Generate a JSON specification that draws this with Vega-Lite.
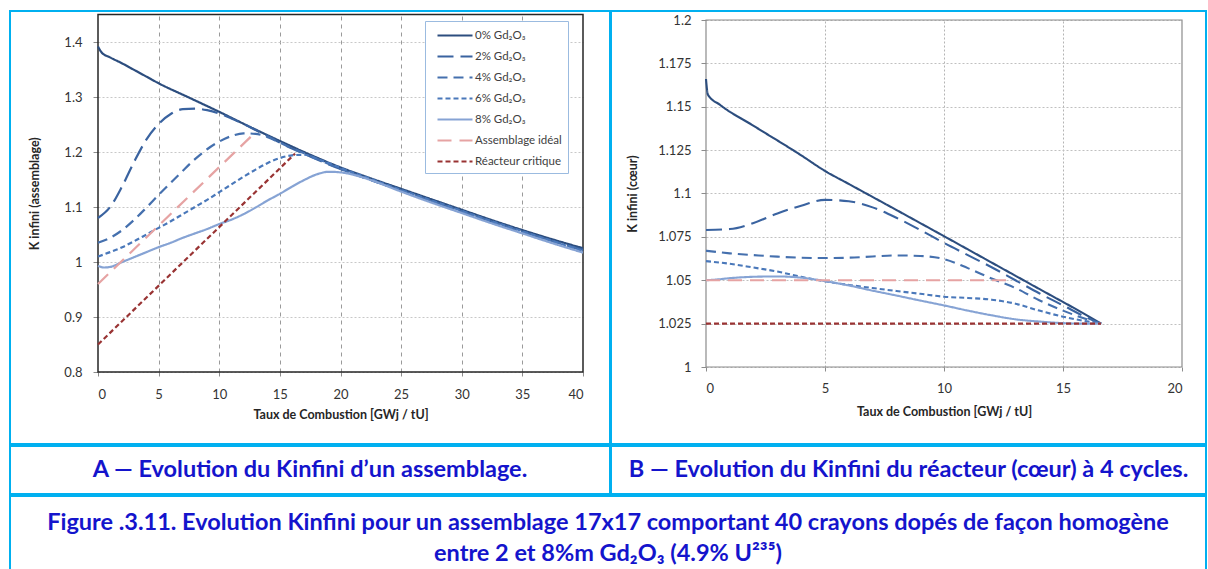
{
  "$schema": "https://vega.github.io/schema/vega-lite/v6.json",
  "padding": {"left": 9, "top": 10, "right": 0, "bottom": 0},
  "background": "#ffffff",
  "spacing": 0,
  "config": {
    "view": {"stroke": "#00B0F0", "strokeWidth": 2},
    "font": "Lato",
    "axis": {"labelFont": "Lato", "titleFont": "Lato", "labelColor": "#333333", "titleColor": "#262626", "labelFontSize": 13, "titleFontSize": 12.5, "titleFontWeight": "bold", "tickColor": "#8c8c8c", "domain": false},
    "legend": {"orient": "none", "title": null, "fillColor": "#ffffff", "strokeColor": "#9BBBE0", "padding": 6, "symbolType": "M-0.286,0H4.714", "symbolSize": 196, "symbolStrokeWidth": 2.2, "labelFontSize": 11.5, "labelFont": "Lato", "labelColor": "#404040", "rowPadding": 7, "labelOffset": 27}
  },
  "datasets": {
    "a": [
      {"s": "0% Gd₂O₃", "x": 0, "k": 1.392}, {"s": "0% Gd₂O₃", "x": 0.3, "k": 1.381}, {"s": "0% Gd₂O₃", "x": 1, "k": 1.372}, {"s": "0% Gd₂O₃", "x": 2, "k": 1.361}, {"s": "0% Gd₂O₃", "x": 3, "k": 1.349}, {"s": "0% Gd₂O₃", "x": 4, "k": 1.337}, {"s": "0% Gd₂O₃", "x": 5, "k": 1.325}, {"s": "0% Gd₂O₃", "x": 7.5, "k": 1.299}, {"s": "0% Gd₂O₃", "x": 10, "k": 1.273}, {"s": "0% Gd₂O₃", "x": 12.5, "k": 1.246}, {"s": "0% Gd₂O₃", "x": 15, "k": 1.22}, {"s": "0% Gd₂O₃", "x": 17.5, "k": 1.195}, {"s": "0% Gd₂O₃", "x": 20, "k": 1.172}, {"s": "0% Gd₂O₃", "x": 22.5, "k": 1.152}, {"s": "0% Gd₂O₃", "x": 25, "k": 1.133}, {"s": "0% Gd₂O₃", "x": 27.5, "k": 1.114}, {"s": "0% Gd₂O₃", "x": 30, "k": 1.095}, {"s": "0% Gd₂O₃", "x": 32.5, "k": 1.076}, {"s": "0% Gd₂O₃", "x": 35, "k": 1.058}, {"s": "0% Gd₂O₃", "x": 37.5, "k": 1.041}, {"s": "0% Gd₂O₃", "x": 40, "k": 1.025},
      {"s": "2% Gd₂O₃", "x": 0, "k": 1.08}, {"s": "2% Gd₂O₃", "x": 1, "k": 1.1}, {"s": "2% Gd₂O₃", "x": 2, "k": 1.138}, {"s": "2% Gd₂O₃", "x": 3, "k": 1.183}, {"s": "2% Gd₂O₃", "x": 4, "k": 1.223}, {"s": "2% Gd₂O₃", "x": 5, "k": 1.251}, {"s": "2% Gd₂O₃", "x": 6, "k": 1.269}, {"s": "2% Gd₂O₃", "x": 7, "k": 1.278}, {"s": "2% Gd₂O₃", "x": 8, "k": 1.279}, {"s": "2% Gd₂O₃", "x": 9, "k": 1.276}, {"s": "2% Gd₂O₃", "x": 10, "k": 1.27}, {"s": "2% Gd₂O₃", "x": 11, "k": 1.261}, {"s": "2% Gd₂O₃", "x": 12, "k": 1.251}, {"s": "2% Gd₂O₃", "x": 13, "k": 1.24}, {"s": "2% Gd₂O₃", "x": 14, "k": 1.229}, {"s": "2% Gd₂O₃", "x": 15, "k": 1.217}, {"s": "2% Gd₂O₃", "x": 17.5, "k": 1.192}, {"s": "2% Gd₂O₃", "x": 20, "k": 1.169}, {"s": "2% Gd₂O₃", "x": 22.5, "k": 1.149}, {"s": "2% Gd₂O₃", "x": 25, "k": 1.13}, {"s": "2% Gd₂O₃", "x": 27.5, "k": 1.111}, {"s": "2% Gd₂O₃", "x": 30, "k": 1.092}, {"s": "2% Gd₂O₃", "x": 32.5, "k": 1.073}, {"s": "2% Gd₂O₃", "x": 35, "k": 1.055}, {"s": "2% Gd₂O₃", "x": 37.5, "k": 1.038}, {"s": "2% Gd₂O₃", "x": 40, "k": 1.022},
      {"s": "4% Gd₂O₃", "x": 0, "k": 1.035}, {"s": "4% Gd₂O₃", "x": 1, "k": 1.044}, {"s": "4% Gd₂O₃", "x": 2, "k": 1.058}, {"s": "4% Gd₂O₃", "x": 3, "k": 1.077}, {"s": "4% Gd₂O₃", "x": 4, "k": 1.099}, {"s": "4% Gd₂O₃", "x": 5, "k": 1.122}, {"s": "4% Gd₂O₃", "x": 6, "k": 1.144}, {"s": "4% Gd₂O₃", "x": 7, "k": 1.166}, {"s": "4% Gd₂O₃", "x": 8, "k": 1.187}, {"s": "4% Gd₂O₃", "x": 9, "k": 1.205}, {"s": "4% Gd₂O₃", "x": 10, "k": 1.219}, {"s": "4% Gd₂O₃", "x": 11, "k": 1.229}, {"s": "4% Gd₂O₃", "x": 12, "k": 1.234}, {"s": "4% Gd₂O₃", "x": 13, "k": 1.233}, {"s": "4% Gd₂O₃", "x": 14, "k": 1.227}, {"s": "4% Gd₂O₃", "x": 15, "k": 1.217}, {"s": "4% Gd₂O₃", "x": 16, "k": 1.207}, {"s": "4% Gd₂O₃", "x": 17.5, "k": 1.193}, {"s": "4% Gd₂O₃", "x": 20, "k": 1.169}, {"s": "4% Gd₂O₃", "x": 22.5, "k": 1.149}, {"s": "4% Gd₂O₃", "x": 25, "k": 1.13}, {"s": "4% Gd₂O₃", "x": 27.5, "k": 1.111}, {"s": "4% Gd₂O₃", "x": 30, "k": 1.092}, {"s": "4% Gd₂O₃", "x": 32.5, "k": 1.073}, {"s": "4% Gd₂O₃", "x": 35, "k": 1.055}, {"s": "4% Gd₂O₃", "x": 37.5, "k": 1.038}, {"s": "4% Gd₂O₃", "x": 40, "k": 1.021},
      {"s": "6% Gd₂O₃", "x": 0, "k": 1.01}, {"s": "6% Gd₂O₃", "x": 1, "k": 1.018}, {"s": "6% Gd₂O₃", "x": 2, "k": 1.027}, {"s": "6% Gd₂O₃", "x": 3, "k": 1.038}, {"s": "6% Gd₂O₃", "x": 4, "k": 1.05}, {"s": "6% Gd₂O₃", "x": 5, "k": 1.062}, {"s": "6% Gd₂O₃", "x": 6, "k": 1.074}, {"s": "6% Gd₂O₃", "x": 7, "k": 1.087}, {"s": "6% Gd₂O₃", "x": 8, "k": 1.1}, {"s": "6% Gd₂O₃", "x": 9, "k": 1.113}, {"s": "6% Gd₂O₃", "x": 10, "k": 1.127}, {"s": "6% Gd₂O₃", "x": 11, "k": 1.141}, {"s": "6% Gd₂O₃", "x": 12, "k": 1.155}, {"s": "6% Gd₂O₃", "x": 13, "k": 1.168}, {"s": "6% Gd₂O₃", "x": 14, "k": 1.18}, {"s": "6% Gd₂O₃", "x": 15, "k": 1.189}, {"s": "6% Gd₂O₃", "x": 16, "k": 1.194}, {"s": "6% Gd₂O₃", "x": 17, "k": 1.195}, {"s": "6% Gd₂O₃", "x": 18, "k": 1.188}, {"s": "6% Gd₂O₃", "x": 19, "k": 1.18}, {"s": "6% Gd₂O₃", "x": 20, "k": 1.171}, {"s": "6% Gd₂O₃", "x": 22.5, "k": 1.151}, {"s": "6% Gd₂O₃", "x": 25, "k": 1.131}, {"s": "6% Gd₂O₃", "x": 27.5, "k": 1.112}, {"s": "6% Gd₂O₃", "x": 30, "k": 1.093}, {"s": "6% Gd₂O₃", "x": 32.5, "k": 1.074}, {"s": "6% Gd₂O₃", "x": 35, "k": 1.056}, {"s": "6% Gd₂O₃", "x": 37.5, "k": 1.038}, {"s": "6% Gd₂O₃", "x": 40, "k": 1.02},
      {"s": "8% Gd₂O₃", "x": 0, "k": 0.993}, {"s": "8% Gd₂O₃", "x": 0.5, "k": 0.99}, {"s": "8% Gd₂O₃", "x": 1, "k": 0.991}, {"s": "8% Gd₂O₃", "x": 2, "k": 1.0}, {"s": "8% Gd₂O₃", "x": 3, "k": 1.009}, {"s": "8% Gd₂O₃", "x": 4, "k": 1.018}, {"s": "8% Gd₂O₃", "x": 5, "k": 1.027}, {"s": "8% Gd₂O₃", "x": 6, "k": 1.035}, {"s": "8% Gd₂O₃", "x": 7, "k": 1.044}, {"s": "8% Gd₂O₃", "x": 8, "k": 1.052}, {"s": "8% Gd₂O₃", "x": 9, "k": 1.06}, {"s": "8% Gd₂O₃", "x": 10, "k": 1.069}, {"s": "8% Gd₂O₃", "x": 11, "k": 1.077}, {"s": "8% Gd₂O₃", "x": 12, "k": 1.087}, {"s": "8% Gd₂O₃", "x": 13, "k": 1.099}, {"s": "8% Gd₂O₃", "x": 14, "k": 1.112}, {"s": "8% Gd₂O₃", "x": 15, "k": 1.124}, {"s": "8% Gd₂O₃", "x": 16, "k": 1.137}, {"s": "8% Gd₂O₃", "x": 17, "k": 1.149}, {"s": "8% Gd₂O₃", "x": 18, "k": 1.159}, {"s": "8% Gd₂O₃", "x": 19, "k": 1.164}, {"s": "8% Gd₂O₃", "x": 20, "k": 1.163}, {"s": "8% Gd₂O₃", "x": 21, "k": 1.159}, {"s": "8% Gd₂O₃", "x": 22.5, "k": 1.149}, {"s": "8% Gd₂O₃", "x": 25, "k": 1.128}, {"s": "8% Gd₂O₃", "x": 27.5, "k": 1.108}, {"s": "8% Gd₂O₃", "x": 30, "k": 1.089}, {"s": "8% Gd₂O₃", "x": 32.5, "k": 1.07}, {"s": "8% Gd₂O₃", "x": 35, "k": 1.052}, {"s": "8% Gd₂O₃", "x": 37.5, "k": 1.034}, {"s": "8% Gd₂O₃", "x": 40, "k": 1.017},
      {"s": "Assemblage idéal", "x": 0, "k": 0.96}, {"s": "Assemblage idéal", "x": 12.8, "k": 1.232},
      {"s": "Réacteur critique", "x": 0, "k": 0.85}, {"s": "Réacteur critique", "x": 16.25, "k": 1.197}
    ],
    "b": [
      {"s": "0% Gd₂O₃", "x": 0, "k": 1.166}, {"s": "0% Gd₂O₃", "x": 0.08, "k": 1.157}, {"s": "0% Gd₂O₃", "x": 0.6, "k": 1.151}, {"s": "0% Gd₂O₃", "x": 2, "k": 1.139}, {"s": "0% Gd₂O₃", "x": 4, "k": 1.122}, {"s": "0% Gd₂O₃", "x": 5, "k": 1.113}, {"s": "0% Gd₂O₃", "x": 6, "k": 1.1055}, {"s": "0% Gd₂O₃", "x": 8, "k": 1.0905}, {"s": "0% Gd₂O₃", "x": 10, "k": 1.0754}, {"s": "0% Gd₂O₃", "x": 12, "k": 1.0602}, {"s": "0% Gd₂O₃", "x": 14, "k": 1.045}, {"s": "0% Gd₂O₃", "x": 16, "k": 1.0298}, {"s": "0% Gd₂O₃", "x": 16.6, "k": 1.025},
      {"s": "2% Gd₂O₃", "x": 0, "k": 1.079}, {"s": "2% Gd₂O₃", "x": 1, "k": 1.0795}, {"s": "2% Gd₂O₃", "x": 2, "k": 1.083}, {"s": "2% Gd₂O₃", "x": 3, "k": 1.0885}, {"s": "2% Gd₂O₃", "x": 4, "k": 1.093}, {"s": "2% Gd₂O₃", "x": 5, "k": 1.0963}, {"s": "2% Gd₂O₃", "x": 6, "k": 1.0955}, {"s": "2% Gd₂O₃", "x": 7, "k": 1.092}, {"s": "2% Gd₂O₃", "x": 8, "k": 1.086}, {"s": "2% Gd₂O₃", "x": 9, "k": 1.079}, {"s": "2% Gd₂O₃", "x": 10, "k": 1.0715}, {"s": "2% Gd₂O₃", "x": 11, "k": 1.0645}, {"s": "2% Gd₂O₃", "x": 12, "k": 1.0575}, {"s": "2% Gd₂O₃", "x": 13, "k": 1.05}, {"s": "2% Gd₂O₃", "x": 14, "k": 1.0425}, {"s": "2% Gd₂O₃", "x": 15, "k": 1.0355}, {"s": "2% Gd₂O₃", "x": 16, "k": 1.0285}, {"s": "2% Gd₂O₃", "x": 16.6, "k": 1.025},
      {"s": "4% Gd₂O₃", "x": 0, "k": 1.067}, {"s": "4% Gd₂O₃", "x": 1, "k": 1.0655}, {"s": "4% Gd₂O₃", "x": 2, "k": 1.0645}, {"s": "4% Gd₂O₃", "x": 3, "k": 1.0636}, {"s": "4% Gd₂O₃", "x": 4, "k": 1.063}, {"s": "4% Gd₂O₃", "x": 5, "k": 1.0628}, {"s": "4% Gd₂O₃", "x": 6, "k": 1.063}, {"s": "4% Gd₂O₃", "x": 7, "k": 1.0637}, {"s": "4% Gd₂O₃", "x": 8, "k": 1.0643}, {"s": "4% Gd₂O₃", "x": 9, "k": 1.064}, {"s": "4% Gd₂O₃", "x": 10, "k": 1.0622}, {"s": "4% Gd₂O₃", "x": 11, "k": 1.057}, {"s": "4% Gd₂O₃", "x": 12, "k": 1.051}, {"s": "4% Gd₂O₃", "x": 13, "k": 1.0455}, {"s": "4% Gd₂O₃", "x": 14, "k": 1.0385}, {"s": "4% Gd₂O₃", "x": 15, "k": 1.0325}, {"s": "4% Gd₂O₃", "x": 16, "k": 1.0275}, {"s": "4% Gd₂O₃", "x": 16.6, "k": 1.025},
      {"s": "6% Gd₂O₃", "x": 0, "k": 1.061}, {"s": "6% Gd₂O₃", "x": 1, "k": 1.0595}, {"s": "6% Gd₂O₃", "x": 2, "k": 1.0573}, {"s": "6% Gd₂O₃", "x": 3, "k": 1.055}, {"s": "6% Gd₂O₃", "x": 4, "k": 1.052}, {"s": "6% Gd₂O₃", "x": 5, "k": 1.0494}, {"s": "6% Gd₂O₃", "x": 6, "k": 1.0473}, {"s": "6% Gd₂O₃", "x": 7, "k": 1.0455}, {"s": "6% Gd₂O₃", "x": 8, "k": 1.0438}, {"s": "6% Gd₂O₃", "x": 9, "k": 1.0422}, {"s": "6% Gd₂O₃", "x": 10, "k": 1.0405}, {"s": "6% Gd₂O₃", "x": 11, "k": 1.0398}, {"s": "6% Gd₂O₃", "x": 12, "k": 1.0388}, {"s": "6% Gd₂O₃", "x": 13, "k": 1.0365}, {"s": "6% Gd₂O₃", "x": 14, "k": 1.0325}, {"s": "6% Gd₂O₃", "x": 15, "k": 1.029}, {"s": "6% Gd₂O₃", "x": 16, "k": 1.0263}, {"s": "6% Gd₂O₃", "x": 16.6, "k": 1.025},
      {"s": "8% Gd₂O₃", "x": 0, "k": 1.05}, {"s": "8% Gd₂O₃", "x": 0.5, "k": 1.0505}, {"s": "8% Gd₂O₃", "x": 1, "k": 1.0512}, {"s": "8% Gd₂O₃", "x": 2, "k": 1.052}, {"s": "8% Gd₂O₃", "x": 3, "k": 1.0522}, {"s": "8% Gd₂O₃", "x": 4, "k": 1.0515}, {"s": "8% Gd₂O₃", "x": 5, "k": 1.0495}, {"s": "8% Gd₂O₃", "x": 6, "k": 1.047}, {"s": "8% Gd₂O₃", "x": 7, "k": 1.044}, {"s": "8% Gd₂O₃", "x": 8, "k": 1.0412}, {"s": "8% Gd₂O₃", "x": 9, "k": 1.0383}, {"s": "8% Gd₂O₃", "x": 10, "k": 1.0355}, {"s": "8% Gd₂O₃", "x": 11, "k": 1.0325}, {"s": "8% Gd₂O₃", "x": 12, "k": 1.0298}, {"s": "8% Gd₂O₃", "x": 13, "k": 1.0275}, {"s": "8% Gd₂O₃", "x": 14, "k": 1.0262}, {"s": "8% Gd₂O₃", "x": 15, "k": 1.0253}, {"s": "8% Gd₂O₃", "x": 16, "k": 1.025}, {"s": "8% Gd₂O₃", "x": 16.6, "k": 1.025},
      {"s": "Assemblage idéal", "x": 0, "k": 1.05}, {"s": "Assemblage idéal", "x": 12.8, "k": 1.05},
      {"s": "Réacteur critique", "x": 0, "k": 1.025}, {"s": "Réacteur critique", "x": 16.6, "k": 1.025}
    ]
  },
  "vconcat": [
    {
      "spacing": 1,
      "bounds": "flush",
      "hconcat": [
        {
          "width": 600,
          "height": 433,
          "resolve": {"axis": {"x": "independent", "y": "independent"}},
          "layer": [
            {
              "data": {"values": [{}]},
              "mark": {"type": "rect", "fill": "transparent", "stroke": "#262626", "strokeWidth": 1.5},
              "encoding": {
                "x": {"datum": 0, "type": "quantitative", "axis": {"orient": "top", "values": [5, 10, 15, 20, 25, 30, 35], "grid": true, "gridColor": "#9a9a9a", "gridDash": [4, 4], "labels": false, "ticks": false, "domain": false, "title": null}},
                "x2": {"datum": 40},
                "y": {"datum": 0.8, "type": "quantitative", "axis": null},
                "y2": {"datum": 1.45}
              }
            },
            {
              "data": {"name": "a"},
              "mark": {"type": "line", "interpolate": "monotone", "strokeWidth": 2.2},
              "encoding": {
                "x": {"field": "x", "type": "quantitative", "scale": {"domain": [0, 40], "range": [88, 573], "nice": false, "zero": false}, "axis": {"orient": "bottom", "offset": -72, "values": [0, 5, 10, 15, 20, 25, 30, 35, 40], "grid": false, "tickSize": 4, "labelPadding": 12, "titlePadding": 7, "title": "Taux de Combustion [GWj / tU]"}},
                "y": {"field": "k", "type": "quantitative", "scale": {"domain": [0.8, 1.45], "range": [361, 3.5], "nice": false, "zero": false}, "axis": {"orient": "left", "offset": -88, "values": [0.8, 0.9, 1, 1.1, 1.2, 1.3, 1.4], "format": ".3~g", "grid": true, "gridColor": "#c8c8c8", "gridDash": [2, 2], "tickSize": 5, "labelPadding": 11, "titlePadding": 22, "title": "K infini (assemblage)"}},
                "color": {"field": "s", "type": "nominal", "scale": {"domain": ["0% Gd₂O₃", "2% Gd₂O₃", "4% Gd₂O₃", "6% Gd₂O₃", "8% Gd₂O₃", "Assemblage idéal", "Réacteur critique"], "range": ["#2C4D7E", "#3A63A0", "#4570AE", "#4A78BA", "#86A3D4", "#E6A3A3", "#993333"]}, "legend": {"legendX": 415, "legendY": 10}},
                "strokeDash": {"field": "s", "type": "nominal", "scale": {"domain": ["0% Gd₂O₃", "2% Gd₂O₃", "4% Gd₂O₃", "6% Gd₂O₃", "8% Gd₂O₃", "Assemblage idéal", "Réacteur critique"], "range": [[1, 0], [16, 7], [10, 6], [5, 3], [1, 0], [14, 8], [5, 3]]}}
              }
            }
          ]
        },
        {
          "width": 595,
          "height": 433,
          "resolve": {"axis": {"x": "independent", "y": "independent"}},
          "layer": [
            {
              "data": {"values": [{}]},
              "mark": {"type": "rect", "fill": "transparent", "stroke": "#8c8c8c", "strokeWidth": 1.2},
              "encoding": {
                "x": {"datum": 0, "type": "quantitative", "axis": {"orient": "top", "values": [5, 10, 15], "grid": true, "gridColor": "#b4b4b4", "gridDash": [2, 2], "labels": false, "ticks": false, "domain": false, "title": null}},
                "x2": {"datum": 20},
                "y": {"datum": 1, "type": "quantitative", "axis": null},
                "y2": {"datum": 1.2}
              }
            },
            {
              "data": {"name": "b"},
              "mark": {"type": "line", "interpolate": "monotone", "strokeWidth": 2.1},
              "encoding": {
                "x": {"field": "x", "type": "quantitative", "scale": {"domain": [0, 20], "range": [95, 571], "nice": false, "zero": false}, "axis": {"orient": "bottom", "offset": -77, "values": [0, 5, 10, 15, 20], "grid": false, "tickSize": 4, "labelPadding": 11, "titlePadding": 10, "title": "Taux de Combustion [GWj / tU]"}},
                "y": {"field": "k", "type": "quantitative", "scale": {"domain": [1, 1.2], "range": [356, 9], "nice": false, "zero": false}, "axis": {"orient": "left", "offset": -95, "values": [1, 1.025, 1.05, 1.075, 1.1, 1.125, 1.15, 1.175, 1.2], "format": ".4~g", "grid": true, "gridColor": "#c0c0c0", "gridDash": [2, 2], "tickSize": 5, "labelPadding": 10, "titlePadding": 18, "title": "K infini (cœur)"}},
                "color": {"field": "s", "type": "nominal", "scale": {"domain": ["0% Gd₂O₃", "2% Gd₂O₃", "4% Gd₂O₃", "6% Gd₂O₃", "8% Gd₂O₃", "Assemblage idéal", "Réacteur critique"], "range": ["#2C4D7E", "#3A63A0", "#4570AE", "#4A78BA", "#86A3D4", "#E6A3A3", "#993333"]}, "legend": {"legendX": 411, "legendY": 17}},
                "strokeDash": {"field": "s", "type": "nominal", "scale": {"domain": ["0% Gd₂O₃", "2% Gd₂O₃", "4% Gd₂O₃", "6% Gd₂O₃", "8% Gd₂O₃", "Assemblage idéal", "Réacteur critique"], "range": [[1, 0], [14, 7], [10, 5], [5, 3], [1, 0], [14, 8], [5, 3]]}}
              }
            }
          ]
        }
      ]
    },
    {
      "spacing": 1,
      "bounds": "flush",
      "hconcat": [
        {
          "width": 600,
          "height": 48,
          "data": {"values": [{"r": 1, "t": "A — Evolution du Kinfini d’un assemblage."}]},
          "mark": {"type": "text", "font": "Lato", "fontWeight": "bold", "fontSize": 23.5, "color": "#1414CC"},
          "encoding": {"y": {"field": "r", "type": "ordinal", "axis": null}, "text": {"field": "t", "type": "nominal"}}
        },
        {
          "width": 595,
          "height": 48,
          "data": {"values": [{"r": 1, "t": "B — Evolution du Kinfini du réacteur (cœur) à 4 cycles."}]},
          "mark": {"type": "text", "font": "Lato", "fontWeight": "bold", "fontSize": 23.5, "color": "#1414CC"},
          "encoding": {"y": {"field": "r", "type": "ordinal", "axis": null}, "text": {"field": "t", "type": "nominal"}}
        }
      ]
    },
    {
      "width": 1196,
      "height": 85,
      "data": {"values": [{"r": 1, "t": "Figure .3.11. Evolution Kinfini pour un assemblage 17x17 comportant 40 crayons dopés de façon homogène"}, {"r": 2, "t": "entre 2 et 8%m Gd₂O₃ (4.9% U²³⁵)"}]},
      "mark": {"type": "text", "font": "Lato", "fontWeight": "bold", "fontSize": 23.5, "color": "#1414CC"},
      "encoding": {"y": {"field": "r", "type": "ordinal", "axis": null, "scale": {"padding": 0.871}}, "text": {"field": "t", "type": "nominal"}}
    }
  ]
}
